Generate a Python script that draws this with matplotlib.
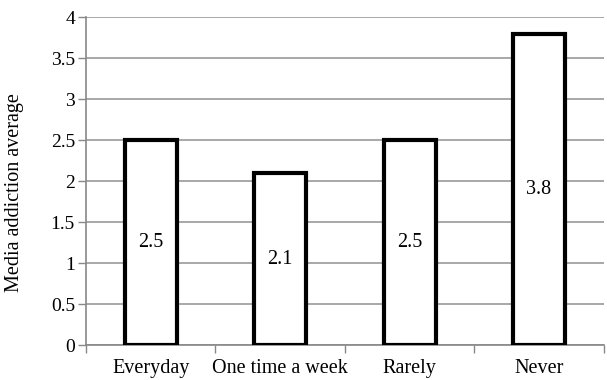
import numpy as np
import matplotlib
matplotlib.use("Agg")
import matplotlib.pyplot as plt

categories = ["Everyday", "One time a week", "Rarely", "Never"]
averages = [2.5, 2.1, 2.5, 3.8]
value_labels = ["2.5", "2.1", "2.5", "3.8"]
yticks = [0, 0.5, 1, 1.5, 2, 2.5, 3, 3.5, 4]
ytick_labels = ["0", "0.5", "1", "1.5", "2", "2.5", "3", "3.5", "4"]

plt.rcParams['font.family'] = ['Liberation Serif', 'DejaVu Serif']
plt.rcParams['font.size'] = 14

fig = plt.figure(figsize=(6.07, 3.8), dpi=100)
ax = fig.add_axes([0.1417, 0.092, 0.853, 0.862])

x = np.arange(len(categories))
bars = ax.bar(x, averages, width=0.4, color='white', edgecolor='black',
              linewidth=3, zorder=3)

# value labels sit in the middle of each bar
for xi, v, lab in zip(x, averages, value_labels):
    ax.text(xi, v / 2, lab, ha='center', va='center', fontsize=14.5, zorder=4)

ax.set_xlim(-0.5, len(categories) - 0.5)
ax.set_ylim(0, 4)
ax.set_yticks(yticks)
ax.set_yticklabels(ytick_labels)
ax.set_xticks(x)
ax.set_xticklabels(categories, fontsize=14.5)
ax.set_xticks(np.arange(len(categories) + 1) - 0.5, minor=True)
ax.tick_params(axis='x', which='major', length=0, pad=10)
ax.tick_params(axis='x', which='minor', length=6, color='#888888', width=1)
ax.tick_params(axis='y', length=6, color='#888888', width=1, pad=2)

ax.yaxis.grid(True, color='#999999', linewidth=1.2, zorder=0)
for side in ['top', 'right']:
    ax.spines[side].set_visible(False)
for side in ['left', 'bottom']:
    ax.spines[side].set_color('#888888')
    ax.spines[side].set_linewidth(1.2)

ax.set_ylabel('Media addiction average', fontsize=14.5)
ax.yaxis.set_label_coords(-0.12, 0.467)

fig.savefig('out.png', dpi=100)
